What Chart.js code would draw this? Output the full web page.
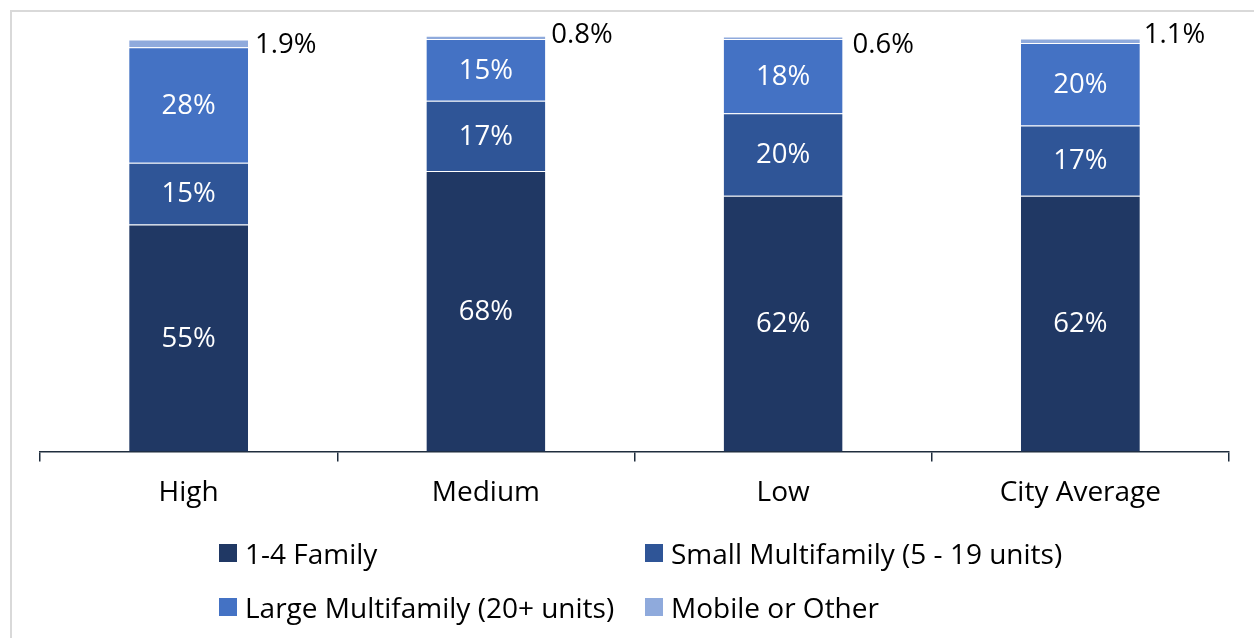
<!DOCTYPE html>
<html>
<head>
<meta charset="utf-8">
<script src="https://cdn.jsdelivr.net/npm/chart.js@4.4.1/dist/chart.umd.min.js"></script>
<style>
  html, body { margin: 0; padding: 0; background: #fff; }
  #wrap { position: relative; width: 1254px; height: 638px; overflow: hidden; font-family: "Open Sans", sans-serif; }
  #frame { position: absolute; left: 10px; top: 10px; width: 1400px; height: 800px; border-left: 2px solid #d9d9d9; border-top: 2px solid #d9d9d9; }
  canvas { position: absolute; left: 0; top: 0; }
  .leg { position: absolute; display: flex; align-items: center; font-size: 28px; color: #000; white-space: nowrap; }
  .leg span.box { display: inline-block; width: 18px; height: 18px; margin-right: 8px; }
</style>
</head>
<body>
<div id="wrap">
  <div id="frame"></div>
  <canvas id="c" width="1254" height="638"></canvas>
  <div id="legend"></div>
</div>
<script>
const categories = ["High", "Medium", "Low", "City Average"];
const seriesNames = ["1-4 Family", "Small Multifamily (5 - 19 units)", "Large Multifamily (20+ units)", "Mobile or Other"];
const family14 = [55, 68, 62, 62];
const smallMulti = [15, 17, 20, 17];
const largeMulti = [28, 15, 18, 20];
const mobileOther = [1.9, 0.8, 0.6, 1.1];
const seriesColors = ["#203864", "#2f5597", "#4472c4", "#8faadc"];

// Style-only nudges for the outside labels (per category)
const outsideLabelDx = [7, 6, 10, 4];
const outsideLabelDy = [2, -2, 7, -6];

const values = [family14, smallMulti, largeMulti, mobileOther];
const FONT = '"Open Sans", sans-serif';

const labelPlugin = {
  id: 'segLabels',
  afterDatasetsDraw(chart) {
    const ctx = chart.ctx;
    ctx.save();
    ctx.font = '27.5px ' + FONT;
    chart.data.datasets.forEach((ds, di) => {
      const meta = chart.getDatasetMeta(di);
      meta.data.forEach((bar, i) => {
        const v = ds.data[i];
        const p = bar.getProps(['x', 'y', 'base', 'width'], true);
        if (di < 3) {
          ctx.fillStyle = '#ffffff';
          ctx.textAlign = 'center';
          ctx.textBaseline = 'middle';
          ctx.fillText(v + '%', p.x, (p.y + p.base) / 2 + 1);
        } else {
          ctx.fillStyle = '#000000';
          ctx.textAlign = 'left';
          ctx.textBaseline = 'middle';
          ctx.fillText(v.toFixed(1) + '%', p.x + p.width / 2 + outsideLabelDx[i], (p.y + p.base) / 2 + outsideLabelDy[i]);
        }
      });
    });
    ctx.restore();
  }
};

new Chart(document.getElementById('c'), {
  type: 'bar',
  data: {
    labels: categories,
    datasets: values.map((arr, k) => ({
      label: seriesNames[k],
      data: arr,
      backgroundColor: seriesColors[k],
      borderColor: 'rgba(255,255,255,0.15)',
      borderWidth: {top: 1, left: 0, right: 0, bottom: 0},
      borderSkipped: false,
      barPercentage: 0.4,
      categoryPercentage: 1.0,
      clip: false
    }))
  },
  options: {
    responsive: false,
    animation: false,
    devicePixelRatio: 1,
    layout: { padding: { left: 40, right: 25, top: 39, bottom: 113 } },
    plugins: { legend: { display: false }, tooltip: { enabled: false } },
    scales: {
      x: {
        stacked: true,
        offset: true,
        grid: { display: true, drawOnChartArea: false, drawTicks: true, tickLength: 10, offset: true, color: '#1f2d3d', lineWidth: 1.5 },
        border: { display: true, color: '#1f2d3d', width: 1.5 },
        ticks: { color: '#000', font: { family: FONT, size: 28 }, padding: 15, maxRotation: 0 }
      },
      y: {
        stacked: true,
        display: false,
        min: 0,
        max: 100
      }
    }
  },
  plugins: [labelPlugin]
});

// Legend (HTML) built from the series names/colors
const legendPos = [[219, 553], [645, 553], [219, 607], [645, 607]];
const legend = document.getElementById('legend');
seriesNames.forEach((name, k) => {
  const d = document.createElement('div');
  d.className = 'leg';
  d.style.left = legendPos[k][0] + 'px';
  d.style.top = (legendPos[k][1] - 20) + 'px';
  d.style.height = '40px';
  const b = document.createElement('span');
  b.className = 'box';
  b.style.background = seriesColors[k];
  d.appendChild(b);
  d.appendChild(document.createTextNode(name));
  legend.appendChild(d);
});
</script>
</body>
</html>
